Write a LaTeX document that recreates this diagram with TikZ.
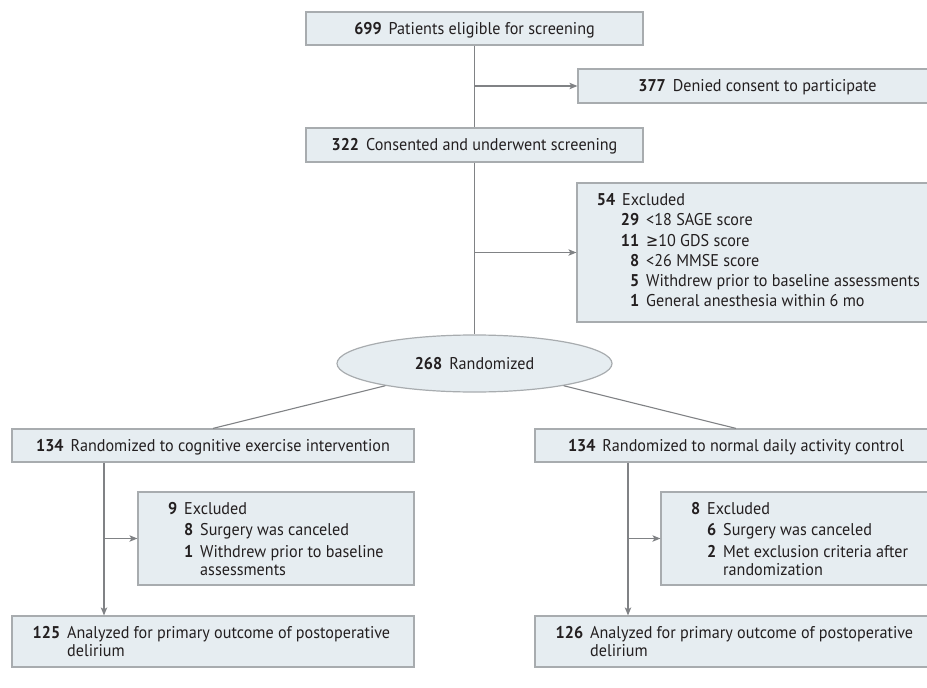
\documentclass[tikz,border=0pt]{standalone}
\usepackage{fontspec}
\setmainfont{PT Sans}[FakeStretch=0.95]
\newfontfamily\symf{DejaVu Sans}[FakeStretch=0.85]
\usetikzlibrary{shapes.geometric,arrows.meta,calc}
\definecolor{boxfill}{HTML}{E6EDF1}
\definecolor{boxline}{HTML}{A8ACAF}
\definecolor{conn}{HTML}{808285}
\definecolor{ink}{HTML}{231F20}
\newcommand\nm[2]{\makebox[#1][r]{\textbf{#2}}\hspace{7pt}}
\begin{document}
\begin{tikzpicture}[x=1pt,y=-1pt,
  box/.style={draw=boxline, fill=boxfill, line width=1.2pt, rectangle, inner sep=0pt,
    text=ink, font=\fontsize{17}{20}\selectfont, text height=15.6pt, text depth=4pt},
  ell/.style={draw=boxline, fill=boxfill, line width=1.2pt, ellipse, inner sep=0pt,
    text=ink, font=\fontsize{17}{20}\selectfont, text height=15.6pt, text depth=4pt},
  mtext/.style={anchor=base west, inner sep=0pt, text=ink},
  ln/.style={draw=conn, line width=1.1pt},
  arr/.style={draw=conn, line width=1.1pt, -{Stealth[length=8pt,width=6.5pt,inset=2pt,fill=conn]}}
]
\clip (0,0) rectangle (927,688);

% boxes
\node[box, minimum width=337pt, minimum height=33pt] (n699) at (474.5,28.5)
  {\textbf{699}\hspace{7pt}Patients eligible for screening};
\node[box, minimum width=359pt, minimum height=34pt] (n377) at (757.5,86)
  {\textbf{377}\hspace{7pt}Denied consent to participate};
\node[box, minimum width=337pt, minimum height=34pt] (n322) at (474.5,145)
  {\textbf{322}\hspace{7pt}Consented and underwent screening};
\node[box, minimum width=360pt, minimum height=139pt] (x54) at (757,252.5) {};
\node[ell, minimum width=275pt, minimum height=57pt] (rand) at (474.5,363.5)
  {\textbf{268}\hspace{7pt}Randomized};
\node[box, minimum width=402pt, minimum height=33pt] (lb) at (213,445.5)
  {\textbf{134}\hspace{7pt}Randomized to cognitive exercise intervention};
\node[box, minimum width=402pt, minimum height=33pt] (rb) at (736,445.5)
  {\textbf{134}\hspace{7pt}Randomized to normal daily activity control};
\node[box, minimum width=276pt, minimum height=93pt] (lx) at (276,538.5) {};
\node[box, minimum width=276pt, minimum height=93pt] (rx) at (799,538.5) {};
\node[box, minimum width=402pt, minimum height=51pt] (la) at (213,641.5) {};
\node[box, minimum width=402pt, minimum height=51pt] (ra) at (736,641.5) {};

% multi-line texts
\node[mtext] (t54) at (591,205.7) {\fontsize{17}{20.2}\selectfont
  \begin{tabular}[t]{@{}l@{}}
  \nm{24pt}{54}Excluded\\
  \nm{48pt}{29}<18 SAGE score\\
  \nm{48pt}{11}{\symf ≥}10 GDS score\\
  \nm{48pt}{8}<26 MMSE score\\
  \nm{48pt}{5}Withdrew prior to baseline assessments\\
  \nm{48pt}{1}General anesthesia within 6 mo
  \end{tabular}};
\node[mtext] (tlx) at (150,514.3) {\fontsize{17}{18.4}\selectfont
  \begin{tabular}[t]{@{}l@{}}
  \nm{27pt}{9}Excluded\\[3.1pt]
  \nm{43pt}{8}Surgery was canceled\\[3.1pt]
  \nm{43pt}{1}Withdrew prior to baseline\\
  \hspace{50pt}assessments
  \end{tabular}};
\node[mtext] (trx) at (673,514.3) {\fontsize{17}{18.4}\selectfont
  \begin{tabular}[t]{@{}l@{}}
  \nm{27pt}{8}Excluded\\[3.1pt]
  \nm{43pt}{6}Surgery was canceled\\[3.1pt]
  \nm{43pt}{2}Met exclusion criteria after\\
  \hspace{50pt}randomization
  \end{tabular}};
\node[mtext] (tla) at (24,638.3) {\fontsize{17}{18.4}\selectfont
  \begin{tabular}[t]{@{}l@{}}
  \nm{36pt}{125}Analyzed for primary outcome of postoperative\\
  \hspace{43pt}delirium
  \end{tabular}};
\node[mtext] (tra) at (547,638.3) {\fontsize{17}{18.4}\selectfont
  \begin{tabular}[t]{@{}l@{}}
  \nm{36pt}{126}Analyzed for primary outcome of postoperative\\
  \hspace{43pt}delirium
  \end{tabular}};

% connectors
\coordinate (b1) at (474.5,86);
\coordinate (b2) at (474.5,252.5);
\coordinate (lt) at (104,538.5);
\coordinate (rt) at (628,538.5);
\draw[ln] (n699) -- (n322);
\draw[arr] (b1) -- (n377.west);
\draw[ln] (n322) -- (rand);
\draw[arr] (b2) -- (x54.west);
\draw[ln] (rand.194) -- (lb.north);
\draw[ln] (rand.-14) -- (rb.north);
\draw[arr] (lb.south -| lt) -- (la.north -| lt);
\draw[arr] (lt) -- (lx.west);
\draw[arr] (rb.south -| rt) -- (ra.north -| rt);
\draw[arr] (rt) -- (rx.west);
\end{tikzpicture}
\end{document}
